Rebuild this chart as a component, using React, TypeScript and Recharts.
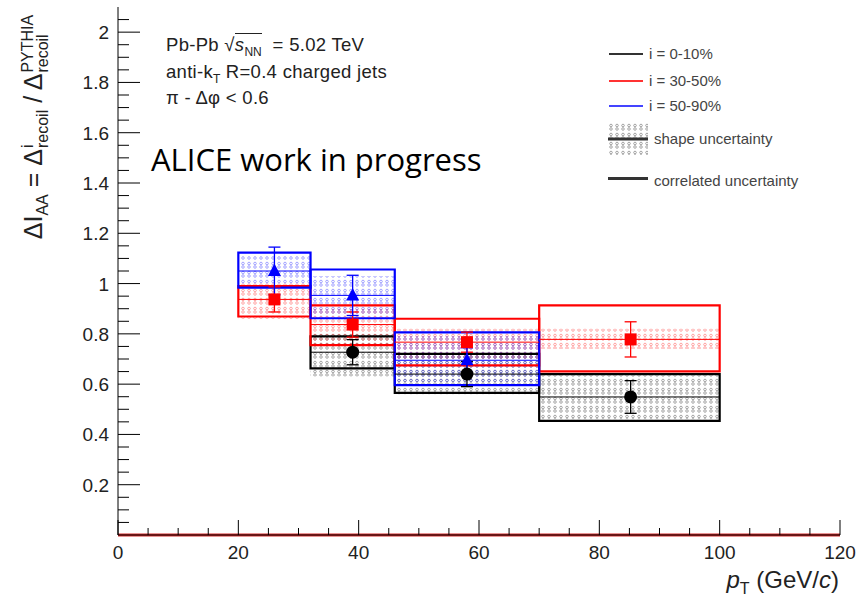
import { ComposedChart, Scatter, XAxis, YAxis, ReferenceArea, ReferenceLine, ErrorBar } from 'recharts'

// pT bins and where the markers sit inside them
const binLow = [20, 32, 46, 70]
const binHigh = [32, 46, 70, 100]
const binPt = [26, 39, 58, 85.2]

// i = 0-10%
const c010Value = [null, 0.727, 0.64, 0.549]
const c010Stat = [null, 0.05, 0.05, 0.065]
const c010CorrLow = [null, 0.663, 0.565, 0.454]
const c010CorrHigh = [null, 0.79, 0.72, 0.64]
const c010ShapeLow = [null, 0.63, 0.56, 0.46]
const c010ShapeHigh = [null, 0.8, 0.72, 0.64]

// i = 30-50%
const c3050Value = [0.937, 0.837, 0.767, 0.778]
const c3050Stat = [0.05, 0.05, 0.04, 0.07]
const c3050CorrLow = [0.869, 0.755, 0.675, 0.651]
const c3050CorrHigh = [0.99, 0.913, 0.86, 0.913]
const c3050ShapeLow = [0.86, 0.76, 0.7, 0.74]
const c3050ShapeHigh = [1.0, 0.9, 0.82, 0.82]

// i = 50-90%
const c5090Value = [1.05, 0.953, 0.695, null]
const c5090Stat = [0.095, 0.08, 0.05, null]
const c5090CorrLow = [0.984, 0.862, 0.596, null]
const c5090CorrHigh = [1.123, 1.056, 0.806, null]
const c5090ShapeLow = [1.0, 0.87, 0.61, null]
const c5090ShapeHigh = [1.11, 1.03, 0.79, null]

const xLabelTicks = [0, 20, 40, 60, 80, 100, 120]
const yLabelTicks = [0.2, 0.4, 0.6, 0.8, 1, 1.2, 1.4, 1.6, 1.8, 2]
const xMinorTicks = Array.from({ length: 25 }, (_, i) => i * 5)
const yMinorTicks = Array.from({ length: 42 }, (_, i) => Math.round(i * 5) / 100)

type Kind = 'circle' | 'square' | 'triangle'
const series: { key: string; color: string; kind: Kind; value: (number | null)[]; stat: (number | null)[]; corrLow: (number | null)[]; corrHigh: (number | null)[]; shapeLow: (number | null)[]; shapeHigh: (number | null)[] }[] = [
  { key: 'c010', color: '#000000', kind: 'circle', value: c010Value, stat: c010Stat, corrLow: c010CorrLow, corrHigh: c010CorrHigh, shapeLow: c010ShapeLow, shapeHigh: c010ShapeHigh },
  { key: 'c3050', color: '#ff0000', kind: 'square', value: c3050Value, stat: c3050Stat, corrLow: c3050CorrLow, corrHigh: c3050CorrHigh, shapeLow: c3050ShapeLow, shapeHigh: c3050ShapeHigh },
  { key: 'c5090', color: '#0000ff', kind: 'triangle', value: c5090Value, stat: c5090Stat, corrLow: c5090CorrLow, corrHigh: c5090CorrHigh, shapeLow: c5090ShapeLow, shapeHigh: c5090ShapeHigh },
]

const FONT = '"Liberation Sans", Arial, sans-serif'
const near = (list: number[], v: number) => list.some(t => Math.abs(t - v) < 1e-6)
const fmt = (v: number) => String(Math.round(v * 100) / 100)

function LeftTick(p: any) {
  const v = p.payload.value
  const major = near(yLabelTicks, v)
  if (v === 0) return null
  return (
    <g>
      <line x1={p.x} x2={p.x + (major ? 22 : 11)} y1={p.y} y2={p.y} stroke="#000" />
      {major && <text x={p.x - 9} y={p.y} dy={7} textAnchor="end" fontFamily={FONT} fontSize={19} fill="#222">{fmt(v)}</text>}
    </g>
  )
}

function RightTick(p: any) {
  const v = p.payload.value
  if (v === 0) return null
  const major = near(yLabelTicks, v)
  return <line x1={p.x} x2={p.x - (major ? 22 : 11)} y1={p.y} y2={p.y} stroke="#000" />
}

function BottomTick(p: any) {
  const v = p.payload.value
  const major = near(xLabelTicks, v)
  return (
    <g>
      <line x1={p.x} x2={p.x} y1={p.y} y2={p.y - (major ? 15 : 7)} stroke="#000" />
      {major && <text x={p.x} y={p.y} dy={24} textAnchor="middle" fontFamily={FONT} fontSize={19} fill="#222">{fmt(v)}</text>}
    </g>
  )
}

function TopTick(p: any) {
  const v = p.payload.value
  const major = near(xLabelTicks, v)
  return <line x1={p.x} x2={p.x} y1={p.y} y2={p.y + (major ? 15 : 7)} stroke="#000" />
}

const marker = (kind: Kind, color: string) => (p: any) => {
  const { cx, cy } = p
  if (cx == null || cy == null) return <g />
  if (kind === 'circle') return <circle cx={cx} cy={cy} r={6.5} fill={color} />
  if (kind === 'square') return <rect x={cx - 6} y={cy - 6} width={12} height={12} fill={color} />
  return <polygon points={`${cx},${cy - 7.5} ${cx - 6.5},${cy + 5} ${cx + 6.5},${cy + 5}`} fill={color} />
}

function Stack({ sup, sub }: { sup: string; sub: string }) {
  return (
    <span style={{ display: 'inline-flex', flexDirection: 'column', fontSize: 16, lineHeight: '15px', verticalAlign: 'middle', marginLeft: 1 }}>
      <span>{sup}</span>
      <span>{sub}</span>
    </span>
  )
}

const subStyle = { fontSize: 12, lineHeight: 0, letterSpacing: 0 }

function LegendRow({ top, color, label }: { top: number; color: string; label: string }) {
  return (
    <div style={{ position: 'absolute', left: 609, top, height: 17, display: 'flex', alignItems: 'center', whiteSpace: 'nowrap' }}>
      <div style={{ width: 34, height: 2, background: color }} />
      <span style={{ marginLeft: 6 }}>{label}</span>
    </div>
  )
}

export default function App() {
  return (
    <div style={{ position: 'absolute', left: 0, top: 0, width: 866, height: 598, background: '#fff', fontFamily: FONT }}>
      <ComposedChart width={866} height={598} margin={{ top: 7, right: 26, bottom: 0, left: 0 }}>
        <defs>
          {series.map(s => (
            <pattern key={s.key} id={`dots-${s.key}`} width={6} height={9} patternUnits="userSpaceOnUse">
              <circle cx={3} cy={2.5} r={1.3} fill="none" stroke={s.color} strokeWidth={0.8} opacity={0.4} />
              <circle cx={3} cy={6} r={1.3} fill="none" stroke={s.color} strokeWidth={0.8} opacity={0.4} />
            </pattern>
          ))}
        </defs>
        <XAxis xAxisId={0} type="number" dataKey="x" domain={[0, 120]} ticks={xMinorTicks} interval={0} height={63}
          tickSize={0} tickMargin={0} tick={<BottomTick />} tickLine={false} axisLine={{ stroke: '#000' }} allowDataOverflow />
        <XAxis xAxisId="top" orientation="top" type="number" dataKey="x" domain={[0, 120]} ticks={xMinorTicks} interval={0} height={0}
          tickSize={0} tickMargin={0} tick={<TopTick />} tickLine={false} axisLine={{ stroke: '#000' }} allowDataOverflow />
        <YAxis yAxisId={0} type="number" dataKey="y" domain={[0, 2.1]} ticks={yMinorTicks} interval={0} width={118}
          tickSize={0} tickMargin={0} tick={<LeftTick />} tickLine={false} axisLine={{ stroke: '#000' }} allowDataOverflow />
        <YAxis yAxisId="right" orientation="right" type="number" dataKey="y" domain={[0, 2.1]} ticks={yMinorTicks} interval={0} width={0}
          tickSize={0} tickMargin={0} tick={<RightTick />} tickLine={false} axisLine={{ stroke: '#000' }} allowDataOverflow />

        {series.map(s => binLow.map((lo, i) => s.value[i] == null ? null : (
          <ReferenceArea key={`sh-${s.key}-${i}`} x1={lo} x2={binHigh[i]} y1={s.shapeLow[i] as number} y2={s.shapeHigh[i] as number}
            fill={`url(#dots-${s.key})`} fillOpacity={1} stroke="none" />
        )))}
        {series.map(s => binLow.map((lo, i) => s.value[i] == null ? null : (
          <ReferenceArea key={`co-${s.key}-${i}`} x1={lo} x2={binHigh[i]} y1={s.corrLow[i] as number} y2={s.corrHigh[i] as number}
            fill="none" stroke={s.color} strokeWidth={2.2} />
        )))}
        {series.map(s => binLow.map((lo, i) => s.value[i] == null ? null : (
          <ReferenceLine key={`ln-${s.key}-${i}`} segment={[{ x: lo, y: s.value[i] as number }, { x: binHigh[i], y: s.value[i] as number }]}
            stroke={s.color} strokeWidth={1} />
        )))}
        <ReferenceLine y={0} stroke="#d42a2a" strokeWidth={3} />

        {series.map(s => (
          <Scatter key={s.key} isAnimationActive={false}
            data={binPt.map((x, i) => ({ x, y: s.value[i], err: s.stat[i] })).filter(d => d.y != null)}
            shape={marker(s.kind, s.color)}>
            <ErrorBar dataKey="err" direction="y" stroke={s.color} width={6} strokeWidth={1.3} />
          </Scatter>
        ))}
      </ComposedChart>

      {/* y axis title */}
      <div style={{ position: 'absolute', left: 35, top: 127, transform: 'translate(-50%, -50%) rotate(-90deg)', whiteSpace: 'nowrap', fontSize: 25, color: '#222' }}>
        ΔI<sub style={{ fontSize: 16, lineHeight: 0 }}>AA</sub> = Δ<Stack sup="i" sub="recoil" /> / Δ<Stack sup="PYTHIA" sub="recoil" />
      </div>

      {/* x axis title */}
      <div style={{ position: 'absolute', right: 27, top: 565, whiteSpace: 'nowrap', fontSize: 24, lineHeight: '30px', color: '#222' }}>
        <i>p</i><sub style={{ fontSize: 16, lineHeight: 0 }}>T</sub> (GeV/<i>c</i>)
      </div>

      {/* system annotation */}
      <div style={{ position: 'absolute', left: 166, top: 32, fontSize: 18.5, letterSpacing: 0.3, lineHeight: '26.5px', color: '#222', whiteSpace: 'nowrap' }}>
        <div>Pb-Pb <span>√<span style={{ borderTop: '1px solid #222' }}><i>s</i><sub style={subStyle}>NN</sub></span></span>&nbsp; = 5.02 TeV</div>
        <div>anti-k<sub style={subStyle}>T</sub> R=0.4 charged jets</div>
        <div>π - Δφ &lt; 0.6</div>
      </div>

      <div style={{ position: 'absolute', left: 151, top: 144, fontFamily: '"Open Sans", sans-serif', fontSize: 31, lineHeight: '31px', color: '#000', whiteSpace: 'nowrap' }}>
        ALICE work in progress
      </div>

      {/* legend */}
      <div style={{ position: 'absolute', left: 0, top: 0, fontSize: 15, color: '#444' }}>
        <LegendRow top={45} color="#333" label="i = 0-10%" />
        <LegendRow top={72} color="#ff3333" label="i = 30-50%" />
        <LegendRow top={97} color="#4444ff" label="i = 50-90%" />
        <svg style={{ position: 'absolute', left: 608, top: 123 }} width={40} height={32}>
          <rect x={0} y={0} width={40} height={32} fill="url(#dots-c010)" />
          <line x1={0} x2={40} y1={16} y2={16} stroke="#333" strokeWidth={3} />
        </svg>
        <div style={{ position: 'absolute', left: 654, top: 130, whiteSpace: 'nowrap' }}>shape uncertainty</div>
        <div style={{ position: 'absolute', left: 608, top: 177, width: 40, height: 3, background: '#333' }} />
        <div style={{ position: 'absolute', left: 654, top: 172, whiteSpace: 'nowrap' }}>correlated uncertainty</div>
      </div>
    </div>
  )
}
